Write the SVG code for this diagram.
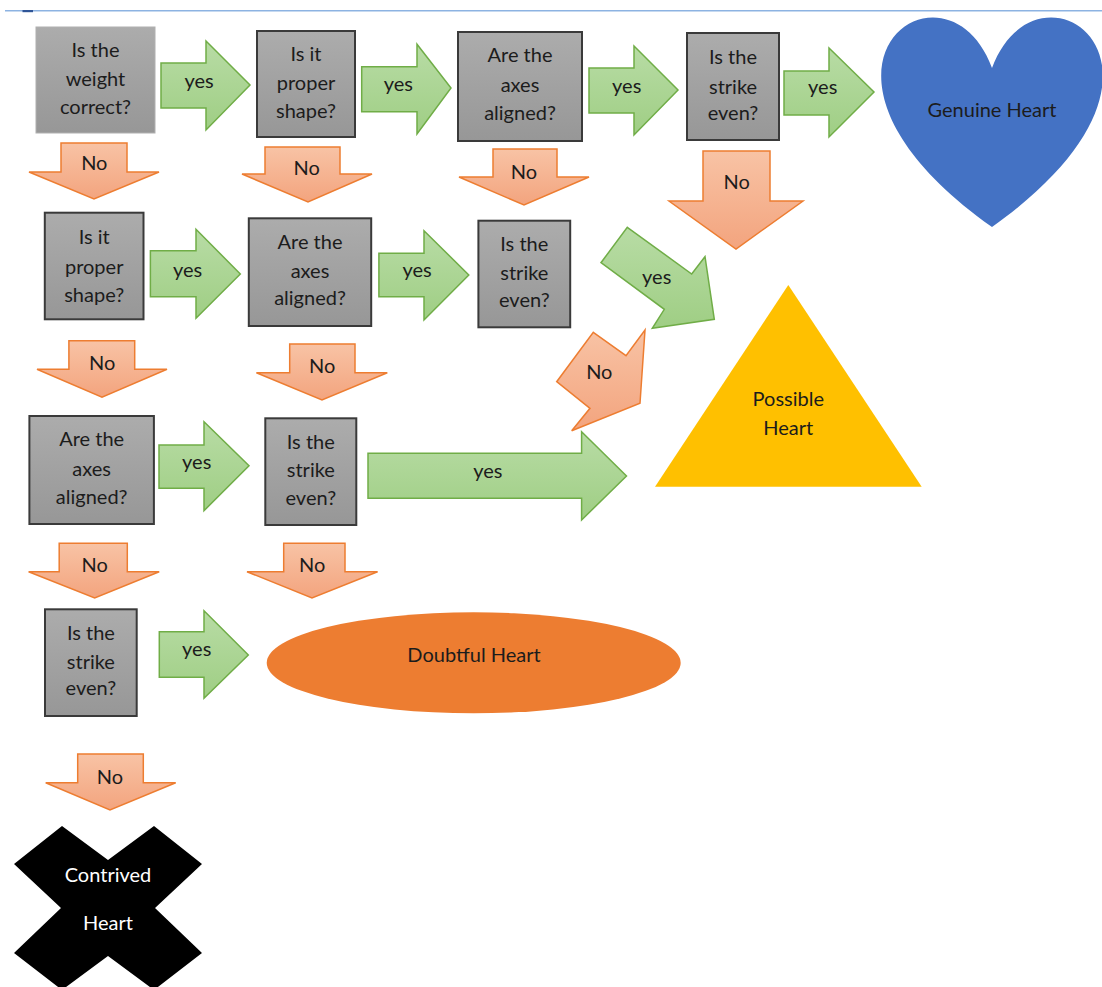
<svg xmlns="http://www.w3.org/2000/svg" width="1102" height="987" viewBox="0 0 1102 987">
<defs>
<linearGradient id="gGreen" x1="0" y1="0" x2="0" y2="1"><stop offset="0" stop-color="#b8dca5"/><stop offset="1" stop-color="#9fce84"/></linearGradient>
<linearGradient id="gOrange" x1="0" y1="0" x2="0" y2="1"><stop offset="0" stop-color="#f8c3a5"/><stop offset="1" stop-color="#f3a47e"/></linearGradient>
<linearGradient id="gGray" x1="0" y1="0" x2="0" y2="1"><stop offset="0" stop-color="#acacac"/><stop offset="1" stop-color="#979797"/></linearGradient>
<style>
.box{fill:url(#gGray);stroke:#3a3a3a;stroke-width:2}
.box1{fill:url(#gGray);stroke:#b0b0b0;stroke-width:1}
.ya{fill:url(#gGreen);stroke:#70ad47;stroke-width:1.5;stroke-linejoin:miter}
.na{fill:url(#gOrange);stroke:#ed7d31;stroke-width:1.5;stroke-linejoin:miter}
text{font-family:Lato,"Liberation Sans",sans-serif;font-size:20px;fill:#1c1c1c;text-anchor:middle}
.w{fill:#ffffff}
</style>
</defs>
<rect width="1102" height="987" fill="#ffffff"/>
<line x1="5" y1="10.7" x2="1102" y2="10.7" stroke="#8db3e2" stroke-width="1.5"/>
<rect x="22.5" y="10" width="10.5" height="2.2" fill="#2f5597"/>

<g id="connectors">
<polygon class="ya" points="161,63 206,63 206,41 250,85 206,130 206,108 161,108"/>
<polygon class="ya" points="361.7,66.7 417,66.7 417,44.3 451,88 417,134 417,111.7 361.7,111.7"/>
<polygon class="ya" points="589,68 634,68 634,46 678,90 634,135 634,113 589,113"/>
<polygon class="ya" points="784,71 829,71 829,48 874,92 829,137 829,115 784,115"/>
<polygon class="ya" points="150.4,250.7 196,250.7 196,229.3 240.3,274 196,318.3 196,296.7 150.4,296.7"/>
<polygon class="ya" points="378.9,253.3 424,253.3 424,230.7 468.8,275 424,320 424,296.7 378.9,296.7"/>
<polygon class="ya" points="159,445 204,445 204,421.7 249,465.7 204,510.7 204,488.3 159,488.3"/>
<polygon class="ya" points="368,453.3 581.6,453.3 581.6,431.7 626.5,476 581.6,520 581.6,498.3 368,498.3"/>
<polygon class="ya" points="159.3,631.7 204,631.7 204,610.7 248.3,655 204,698.3 204,677.3 159.3,677.3"/>
<polygon class="ya" points="627.3,227.3 691.7,274 705,256.7 714.3,319.3 652.3,328.3 664.3,309.3 601,262.7"/>

<polygon class="na" points="61,143 127,143 127,172 159,172 94,199 29,172 61,172"/>
<polygon class="na" points="265,147 340,147 340,174 372,174 308,202 242,174 265,174"/>
<polygon class="na" points="493,149 557,149 557,177 589,177 524,205 459,177 493,177"/>
<polygon class="na" points="703,151 770,151 770,201 803,201 736,249 669,201 703,201"/>
<polygon class="na" points="68.9,340.7 134.7,340.7 134.7,369.3 167,369.3 102,397.3 37,369.3 68.9,369.3"/>
<polygon class="na" points="289.7,344 355,344 355,372.7 387.3,372.7 322,400 256.4,372.7 289.7,372.7"/>
<polygon class="na" points="59.2,543.3 127.3,543.3 127.3,571.7 159.2,571.7 94.7,598 28.6,571.7 59.2,571.7"/>
<polygon class="na" points="283.7,543.3 345,543.3 345,571.7 377.6,571.7 312,598 247,571.7 283.7,571.7"/>
<polygon class="na" points="77.7,754 143.3,754 143.3,782.7 175.7,782.7 110,810 45.7,782.7 77.7,782.7"/>
<polygon class="na" points="593.3,332.3 626,355.7 645,330 640,403.3 571.7,430.7 590,408.3 556.7,381.7"/>

<text x="199" y="88">yes</text>
<text x="398.3" y="91">yes</text>
<text x="626.7" y="92.7">yes</text>
<text x="822.7" y="94.3">yes</text>
<text x="187.5" y="276.7">yes</text>
<text x="417.1" y="276.7">yes</text>
<text x="196.7" y="469.3">yes</text>
<text x="487.8" y="477.7">yes</text>
<text x="196.7" y="656">yes</text>
<text x="656.7" y="284.3">yes</text>

<text x="94.3" y="170.3">No</text>
<text x="306.7" y="175.3">No</text>
<text x="524" y="178.7">No</text>
<text x="736.7" y="188.7">No</text>
<text x="102.2" y="370.3">No</text>
<text x="322.2" y="373">No</text>
<text x="94.7" y="572">No</text>
<text x="312.2" y="572">No</text>
<text x="110" y="783.7">No</text>
<text x="599.3" y="378.7">No</text>
</g>

<g id="q-weight">
<rect class="box1" x="36" y="27" width="119" height="106"/>
<text x="95.5" y="57">Is the</text><text x="95.5" y="86">weight</text><text x="95.5" y="114">correct?</text>
</g>
<g id="q-shape-1">
<rect class="box" x="257" y="31" width="98" height="106"/>
<text x="306" y="61">Is it</text><text x="306" y="90">proper</text><text x="306" y="118">shape?</text>
</g>
<g id="q-axes-1">
<rect class="box" x="458" y="32" width="124" height="109"/>
<text x="520" y="62">Are the</text><text x="520" y="92">axes</text><text x="520" y="119.5">aligned?</text>
</g>
<g id="q-strike-1">
<rect class="box" x="687" y="33" width="92" height="107"/>
<text x="733" y="63.5">Is the</text><text x="733" y="93.5">strike</text><text x="733" y="120">even?</text>
</g>
<g id="q-shape-2">
<rect class="box" x="44.8" y="212.7" width="98.7" height="106.6"/>
<text x="94.2" y="243.5">Is it</text><text x="94.2" y="273.5">proper</text><text x="94.2" y="302">shape?</text>
</g>
<g id="q-axes-2">
<rect class="box" x="248.8" y="218.3" width="122.4" height="107.7"/>
<text x="310" y="248.5">Are the</text><text x="310" y="277.5">axes</text><text x="310" y="305">aligned?</text>
</g>
<g id="q-strike-2">
<rect class="box" x="478.4" y="220.7" width="91.8" height="106.6"/>
<text x="524.3" y="251">Is the</text><text x="524.3" y="279.5">strike</text><text x="524.3" y="307">even?</text>
</g>
<g id="q-axes-3">
<rect class="box" x="29.4" y="416" width="124.5" height="108"/>
<text x="91.7" y="446">Are the</text><text x="91.7" y="476">axes</text><text x="91.7" y="504">aligned?</text>
</g>
<g id="q-strike-3">
<rect class="box" x="265.3" y="418.3" width="91" height="106.7"/>
<text x="310.8" y="448.5">Is the</text><text x="310.8" y="477">strike</text><text x="310.8" y="505">even?</text>
</g>
<g id="q-strike-4">
<rect class="box" x="45" y="609.3" width="91.7" height="106.7"/>
<text x="90.9" y="640">Is the</text><text x="90.9" y="668.5">strike</text><text x="90.9" y="695">even?</text>
</g>

<g id="genuine-heart">
<path d="M992,68 C1037.8,-55.7 1216.6,68 992,227 C767.4,68 946.2,-55.7 992,68 Z" fill="#4472c4"/>
<text x="992" y="117">Genuine Heart</text>
</g>
<g id="possible-heart">
<polygon points="788.3,285 921.7,486.7 655,486.7" fill="#ffc000"/>
<text x="788.3" y="406">Possible</text><text x="788.3" y="435">Heart</text>
</g>
<g id="doubtful-heart">
<ellipse cx="473.7" cy="662.8" rx="207" ry="50.5" fill="#ed7d31"/>
<text x="474" y="662">Doubtful Heart</text>
</g>
<g id="contrived-heart">
<polygon points="62,826 108,860 154,826 202,864 155,908 202,953 154,990 108,956 62,990 14,953 61,908 14,864" fill="#000000"/>
<text class="w" x="108" y="882">Contrived</text><text class="w" x="108" y="930">Heart</text>
</g>
</svg>
